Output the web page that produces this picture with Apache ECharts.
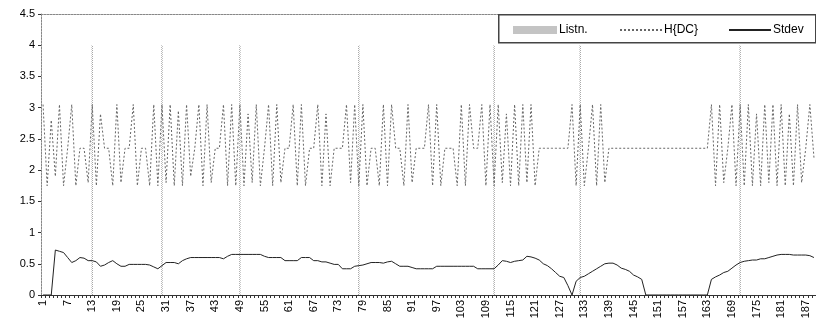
<!DOCTYPE html>
<html><head><meta charset="utf-8">
<script src="https://cdn.jsdelivr.net/npm/echarts@6/dist/echarts.min.js"></script>
<style>html,body{margin:0;padding:0;background:#fff}#c{width:816px;height:324px}</style>
</head><body><div id="c"></div>
<script>
const categories = [];
for (let i = 1; i <= 189; i++) categories.push(String(i));

const listnCats = ['13','30','49','78','111','132','171'];
const listnValues = [4, 4, 4, 4, 4, 4, 4];

const hdc = [
3.05,1.75,2.8,1.9,3.05,1.75,2.35,3.05,1.75,2.35,
2.35,1.8,3.05,1.75,2.9,2.35,2.35,1.75,3.05,1.8,
2.35,2.35,3.05,1.75,2.35,2.35,1.75,3.05,1.75,3.05,
1.8,3.05,1.75,2.95,1.75,3.05,1.9,2.35,3.05,1.75,
3.05,1.8,2.35,2.35,3.05,1.75,3.05,1.75,3.05,1.75,
2.9,1.8,3.05,1.75,2.35,3.05,1.75,3.05,1.8,2.35,
2.35,3.05,1.75,3.05,1.75,2.35,2.35,3.05,1.75,2.9,
1.75,2.35,2.35,2.35,3.05,1.8,3.05,1.75,3.05,1.75,
2.35,2.35,1.75,3.05,1.75,3.05,2.35,2.35,1.75,3.05,
1.8,2.35,2.35,2.35,3.05,1.75,3.05,1.75,2.35,2.35,
2.35,1.75,3.05,1.75,3.05,2.35,2.35,3.05,1.75,3.05,
1.75,3.05,1.8,2.9,1.75,3.05,1.75,3.05,1.8,3.05,
1.75,2.35,2.35,2.35,2.35,2.35,2.35,2.35,2.35,3.05,
1.75,3.05,1.75,2.35,3.05,1.75,3.05,1.8,2.35,2.35,
2.35,2.35,2.35,2.35,2.35,2.35,2.35,2.35,2.35,2.35,
2.35,2.35,2.35,2.35,2.35,2.35,2.35,2.35,2.35,2.35,
2.35,2.35,2.35,3.05,1.75,3.05,1.8,2.35,3.05,1.75,
3.05,1.75,3.05,1.75,2.9,1.75,3.05,1.8,3.05,1.75,
3.05,1.75,2.9,1.75,3.05,1.8,2.35,3.05,2.2
];

const stdev = [
0,0,0,0.72,0.70,0.68,0.60,0.52,0.55,0.60,
0.59,0.55,0.55,0.53,0.46,0.48,0.52,0.55,0.50,0.46,
0.46,0.49,0.49,0.49,0.49,0.49,0.48,0.45,0.42,0.47,
0.52,0.52,0.52,0.50,0.55,0.58,0.60,0.60,0.60,0.60,
0.60,0.60,0.60,0.60,0.58,0.62,0.65,0.65,0.65,0.65,
0.65,0.65,0.65,0.65,0.62,0.60,0.60,0.60,0.60,0.55,
0.55,0.55,0.55,0.60,0.60,0.60,0.55,0.55,0.53,0.53,
0.51,0.49,0.49,0.42,0.42,0.42,0.46,0.47,0.48,0.50,
0.52,0.52,0.52,0.51,0.53,0.54,0.50,0.46,0.46,0.46,
0.44,0.42,0.42,0.42,0.42,0.42,0.46,0.46,0.46,0.46,
0.46,0.46,0.46,0.46,0.46,0.46,0.42,0.42,0.42,0.42,
0.42,0.48,0.55,0.54,0.52,0.54,0.55,0.56,0.62,0.61,
0.59,0.56,0.50,0.47,0.42,0.36,0.30,0.28,0.15,0,
0.22,0.28,0.30,0.34,0.38,0.42,0.46,0.50,0.51,0.51,
0.48,0.43,0.41,0.38,0.32,0.29,0.25,0,0,0,
0,0,0,0,0,0,0,0,0,0,
0,0,0,0.25,0.29,0.32,0.36,0.38,0.43,0.48,
0.52,0.54,0.55,0.56,0.56,0.58,0.58,0.60,0.62,0.64,
0.65,0.65,0.65,0.64,0.64,0.64,0.64,0.63,0.60
];

const yTicks = ['0','0.5','1','1.5','2','2.5','3','3.5','4','4.5'];

const pc = document.createElement('canvas');
pc.width = 2; pc.height = 2;
const px = pc.getContext('2d');
px.fillStyle = '#ffffff'; px.fillRect(0, 0, 2, 2);
px.fillStyle = '#a8a8a8'; px.fillRect(0, 0, 1, 1); px.fillRect(1, 1, 1, 1);
const hatch = { image: pc, repeat: 'repeat' };

const font = 'Liberation Sans';
const legendText = { fontFamily: font, fontSize: 12, color: '#000', padding: [0, 0, 0, -3] };
const chart = echarts.init(document.getElementById('c'), null, { renderer: 'canvas' });
chart.setOption({
  animation: false,
  backgroundColor: '#fff',
  textStyle: { fontFamily: font },
  grid: { left: 41, right: 0, top: 14, bottom: 29, containLabel: false },
  graphic: [{
    type: 'rect', left: 498, top: 14, z: 100,
    shape: { width: 317, height: 28 },
    style: { fill: 'rgba(0,0,0,0)', stroke: '#444', lineWidth: 1.5 }
  }],
  legend: [{
    left: 513, top: 24, itemWidth: 44, itemHeight: 8, padding: 0, z: 101,
    textStyle: legendText,
    data: [{ name: 'Listn.', icon: 'rect', itemStyle: { color: '#c4c4c4' } }]
  }, {
    left: 619, top: 24, itemWidth: 42, itemHeight: 8, padding: 0, z: 101,
    textStyle: legendText,
    data: [{ name: 'H{DC}', itemStyle: { opacity: 0 } }]
  }, {
    left: 728, top: 24, itemWidth: 42, itemHeight: 8, padding: 0, z: 101,
    textStyle: legendText,
    data: [{ name: 'Stdev', itemStyle: { opacity: 0 } }]
  }],
  xAxis: [{
    type: 'category', data: categories, boundaryGap: true,
    axisLine: { lineStyle: { color: '#333', width: 1 } },
    axisTick: { show: true, interval: 0, length: 3, lineStyle: { color: '#333' } },
    axisLabel: { interval: 5, rotate: 90, fontSize: 11, color: '#000', fontFamily: font, margin: 5 },
    splitLine: { show: false }
  }, {
    type: 'category', data: categories, position: 'top', boundaryGap: true,
    axisLine: { show: true, lineStyle: { color: '#888', type: [2, 1], width: 1 } },
    axisTick: { show: false }, axisLabel: { show: false }, splitLine: { show: false }
  }],
  yAxis: {
    type: 'value', min: 0, max: 4.5, interval: 0.5,
    axisLine: { show: true, lineStyle: { color: '#888', type: [2, 1], width: 1 } },
    axisTick: { show: true, length: 3, lineStyle: { color: '#333' } },
    axisLabel: { fontSize: 11, color: '#000', fontFamily: font, margin: 6,
      formatter: (v) => yTicks[Math.round(v * 2)] },
    splitLine: { show: false }
  },
  series: [{
    name: 'Listn.', type: 'bar', barWidth: 1.5,
    data: listnCats.map((c, i) => [c, listnValues[i]]),
    itemStyle: { color: hatch }
  }, {
    name: 'H{DC}', type: 'line', data: hdc, symbol: 'none', showSymbol: false,
    lineStyle: { color: '#666', width: 1, type: [2, 2] }, itemStyle: { color: '#666' }
  }, {
    name: 'Stdev', type: 'line', data: stdev, symbol: 'none', showSymbol: false,
    lineStyle: { color: '#222', width: 1 }, itemStyle: { color: '#222' }
  }]
});
</script></body></html>
